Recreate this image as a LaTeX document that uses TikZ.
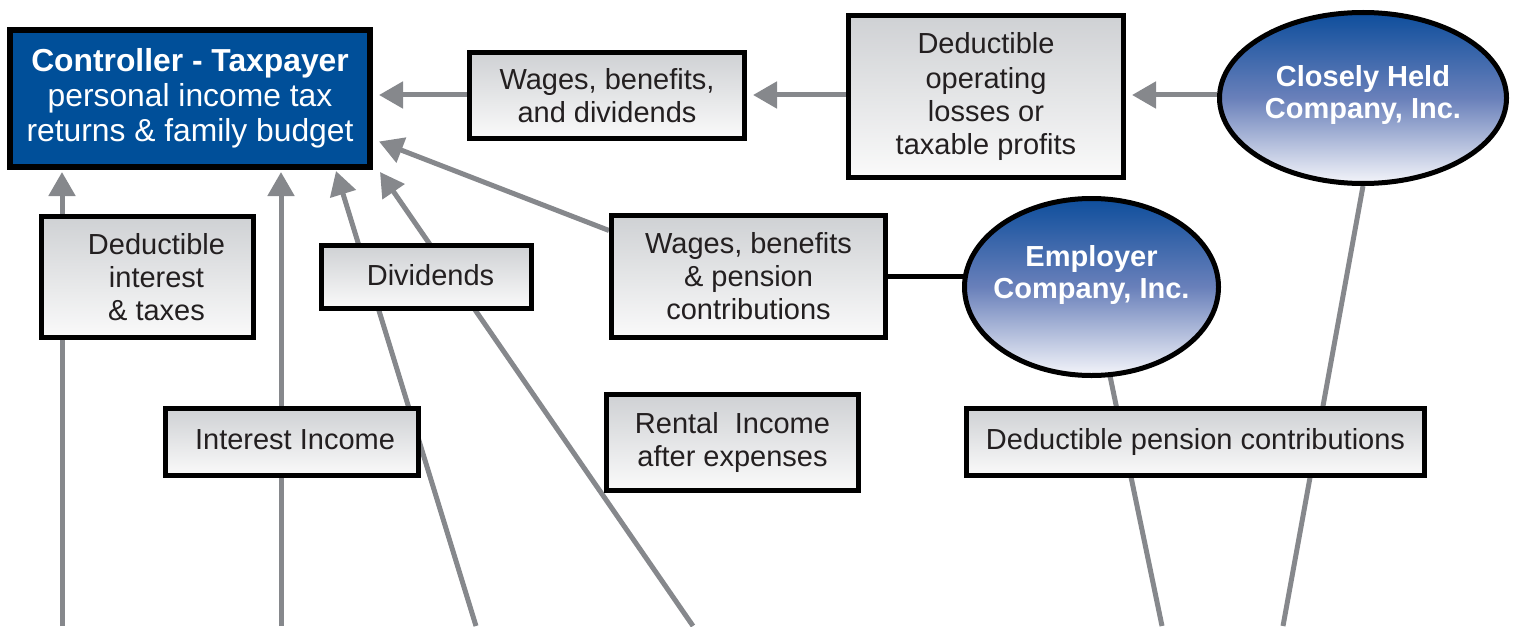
\documentclass[tikz,border=0pt]{standalone}
\usepackage{fontspec}
\setmainfont{Liberation Sans}
\usetikzlibrary{shapes.geometric,arrows.meta,backgrounds,calc}
\definecolor{conn}{RGB}{134,136,140}
\definecolor{ctrlblue}{RGB}{0,79,153}
\definecolor{boxtop}{RGB}{207,209,212}
\definecolor{boxbot}{RGB}{250,250,250}
\definecolor{elltop}{RGB}{14,78,156}
\definecolor{ellmid}{RGB}{105,128,186}
\definecolor{ellbot}{RGB}{244,245,250}
\definecolor{ink}{RGB}{35,31,32}
\begin{document}
\begin{tikzpicture}[x=0.5pt,y=-0.5pt,
  box/.style={draw=black,line width=2.5pt,top color=boxtop,bottom color=boxbot,
    inner sep=0pt,align=center,text=ink,font=\fontsize{14.5}{16.5}\selectfont},
  blob/.style={ellipse,draw=black,line width=2.5pt,top color=elltop,bottom color=ellbot,
    middle color=ellmid,inner sep=0pt},
  blobtext/.style={text=white,font=\fontsize{14.5}{16}\selectfont\bfseries,align=center},
  arr/.style={draw=conn,line width=2.5pt,-{Triangle[length=12pt,width=13pt]}},
  ln/.style={draw=conn,line width=2.5pt}]
\useasboundingbox (0,0) rectangle (1518,626);

% nodes
\node[draw=black,line width=3pt,fill=ctrlblue,minimum width=180pt,minimum height=68.5pt,
  inner sep=0pt,align=center,text=white,font=\fontsize{15.9}{17.5}\selectfont]
  (ctrl) at (190,98.5) {\textbf{Controller - Taxpayer}\\personal income tax\\returns \& family budget};
\node[box,minimum width=137.5pt,minimum height=43pt] (wbd) at (607,95.5) {Wages, benefits,\\and dividends};
\node[box,minimum width=137.5pt,minimum height=81pt] (dol) at (986,96.5) {\raisebox{1pt}{Deductible}\\operating\\losses or\\taxable profits};
\node[blob,minimum width=143.5pt,minimum height=85.5pt] (chc) at (1363,98) {};
\node[blobtext] (chct) at (1363,95) {Closely Held\\Company, Inc.};
\node[box,minimum width=106pt,minimum height=60.5pt] (dit) at (147.5,277) {\hspace*{9pt}Deductible\\\hspace*{9pt}interest\\\hspace*{9pt}\& taxes};
\node[box,minimum width=105pt,minimum height=31.5pt] (div) at (426.5,277) {\hspace*{4pt}\raisebox{2.5pt}{Dividends}};
\node[box,minimum width=137pt,minimum height=61pt] (wbp) at (748.5,276.5) {Wages, benefits\\\& pension\\contributions};
\node[blob,minimum width=127pt,minimum height=88.5pt] (emp) at (1091.5,287) {};
\node[blobtext] (empt) at (1091.5,275) {Employer\\Company, Inc.};
\node[box,minimum width=126.5pt,minimum height=33.5pt] (ii) at (292,442) {\hspace*{3pt}\raisebox{2pt}{Interest Income}};
\node[box,minimum width=126pt,minimum height=48pt] (ri) at (732.5,442.5) {Rental~ Income\\after expenses};
\node[box,minimum width=229pt,minimum height=33.5pt] (dpc) at (1195.5,442) {\raisebox{2pt}{Deductible pension contributions}};

% bottom free ends
\coordinate (b1) at (62,626);
\coordinate (b2) at (281,626);
\coordinate (b3) at (476,626);
\coordinate (b4) at (693,626);
\coordinate (b9) at (1283,626);
\coordinate (b10) at (1162,626);
\coordinate (t3) at (336,171);
\coordinate (t4) at (380,172);

\begin{scope}[on background layer]
  \draw[arr,shorten >=1pt] (b1) -- (b1 |- ctrl.south);
  \draw[arr,shorten >=1pt] (b2) -- (b2 |- ctrl.south);
  \draw[arr] (b3) -- (t3);
  \draw[arr] (b4) -- (t4);
  \draw[arr] ($(wbp.west)+(0,-46)$) -- ($(ctrl.east)+(6,43)$);
  \draw[arr,shorten >=3pt] ($(wbd.west)+(0,-0.5)$) -- ($(wbd.west -| ctrl.east)+(0,-0.5)$);
  \draw[arr,shorten >=3pt] ($(dol.west)+(0,-1.5)$) -- ($(dol.west -| wbd.east)+(0,-1.5)$);
  \draw[arr,shorten >=3pt] ($(chc.west)+(0,-3)$) -- ($(chc.west -| dol.east)+(0,-3)$);
  \draw[ln] (chc.south) -- (b9);
  \draw[ln] (emp.center) -- (b10);
  \draw[line width=2.5pt] (wbp.east) -- (wbp.east -| emp.center);
\end{scope}
\end{tikzpicture}
\end{document}
